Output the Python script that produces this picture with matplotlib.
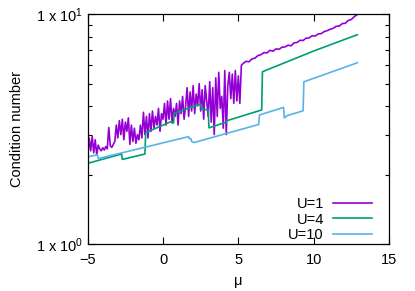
import matplotlib
matplotlib.use("Agg")
import matplotlib.pyplot as plt

plt.rcParams['font.family'] = ['Liberation Sans', 'DejaVu Sans']
plt.rcParams['mathtext.fontset'] = 'custom'
plt.rcParams['mathtext.rm'] = 'Liberation Sans'
plt.rcParams['mathtext.it'] = 'Liberation Sans:italic'

# U=1 : parte ruidosa (mu = -5.0 ... 5.2, paso 0.1) + parte suave
mu_u1 = [
    -5.0, -4.9, -4.8, -4.7, -4.6, -4.5, -4.4, -4.3,
    -4.2, -4.1, -4.0, -3.9, -3.8, -3.7, -3.6, -3.5, -3.4,
    -3.3, -3.2, -3.1, -3.0, -2.9, -2.8, -2.7, -2.6, -2.5, -2.4,
    -2.3, -2.2, -2.1, -2.0, -1.9, -1.8, -1.7, -1.6, -1.5, -1.4,
    -1.3, -1.2, -1.1, -1.0, -0.9, -0.8, -0.7, -0.6, -0.5, -0.4, -0.3, -0.2, -0.1,
    0.0, 0.1, 0.2, 0.3, 0.4, 0.5, 0.6, 0.7, 0.8, 0.9, 1.0, 1.1, 1.2, 1.3, 1.4,
    1.5, 1.6, 1.7, 1.8, 1.9, 2.0, 2.1, 2.2, 2.3, 2.4, 2.5, 2.6, 2.7, 2.8, 2.9,
    3.0, 3.1, 3.2, 3.3, 3.4, 3.5, 3.6, 3.7, 3.8, 3.9, 4.0, 4.1, 4.2, 4.3,
    4.4, 4.5, 4.6, 4.7, 4.8, 4.9, 5.0, 5.1, 5.2,
    5.3, 5.5, 5.7, 5.9, 6.1, 6.3, 6.5, 6.7, 6.9, 7.1, 7.3, 7.5, 7.7, 7.9,
    8.1, 8.3, 8.5, 8.7, 8.9, 9.1, 9.3, 9.5, 9.7, 9.9, 10.1, 10.3, 10.5,
    10.7, 10.9, 11.1, 11.3, 11.5, 11.7, 11.9, 12.1, 12.3, 12.5, 12.7, 12.9,
]
cond_u1 = [
    2.40, 2.90, 2.55, 2.95, 2.50, 2.85, 2.45, 2.70,
    2.60, 2.55, 2.63, 2.57, 2.66, 2.60, 3.22, 2.68, 2.64,
    2.72, 2.80, 3.30, 2.90, 3.45, 3.00, 3.50, 2.85, 3.40, 3.10,
    3.55, 2.72, 3.30, 2.80, 3.20, 2.75, 3.00, 2.85, 3.30, 2.90,
    3.75, 3.00, 3.60, 2.90, 3.70, 3.10, 3.80, 3.20, 3.60, 3.30, 3.90, 3.10, 3.70,
    3.50, 4.10, 3.30, 4.20, 3.50, 4.30, 3.40, 3.90, 3.60, 4.10, 3.30, 4.20, 3.70, 4.40, 3.50,
    4.00, 4.80, 3.60, 4.60, 3.80, 4.90, 3.70, 4.50, 4.00, 5.00, 3.80, 4.70, 3.50, 4.90, 4.20,
    3.60, 5.10, 3.40, 4.80, 3.00, 5.30, 3.60, 5.60, 3.90, 4.40, 3.20, 5.70, 3.00, 4.90,
    5.60, 4.30, 5.50, 4.10, 5.70, 4.20, 5.40, 4.10, 6.00,
    6.10, 6.25, 6.22, 6.40, 6.45, 6.62, 6.68, 6.82, 6.80, 6.98, 6.92, 7.08, 7.05, 7.20,
    7.22, 7.35, 7.30, 7.52, 7.55, 7.72, 7.70, 7.88, 7.90, 8.08, 8.05, 8.22, 8.25,
    8.42, 8.50, 8.62, 8.70, 8.88, 8.90, 9.12, 9.15, 9.42, 9.50, 9.78, 10.0,
]

mu_u4 = [-5.0, -2.75, -2.7, -1.2, -1.15, 0.55, 0.6, 0.7, 0.75, 2.5, 2.55,
         3.0, 3.05, 4.2, 4.25, 6.55, 6.6, 10.0, 10.05, 12.9]
cond_u4 = [2.25, 2.47, 2.34, 2.47, 3.06, 3.42, 3.37, 3.37, 3.72, 4.07, 3.88,
           3.84, 3.21, 3.40, 3.45, 3.84, 5.63, 6.93, 6.95, 8.16]

mu_u10 = [-5.0, -4.35, -4.3, 1.7, 1.75, 1.85, 1.9, 2.05, 6.35, 6.4,
          8.0, 8.05, 8.15, 8.2, 9.3, 9.35, 12.9]
cond_u10 = [2.40, 2.45, 2.36, 2.94, 2.88, 2.88, 2.80, 2.77, 3.32, 3.65,
            3.94, 3.55, 3.58, 3.62, 3.81, 5.09, 6.16]

fs = 10.5

fig = plt.figure(figsize=(4.15, 2.91), dpi=100)
ax = fig.add_axes([0.2113, 0.1605, 0.726, 0.790])

ax.plot(mu_u1, cond_u1, color='#9400d3', lw=1.2, label='U=1')
ax.plot(mu_u4, cond_u4, color='#009e73', lw=1.2, label='U=4')
ax.plot(mu_u10, cond_u10, color='#56b4e9', lw=1.2, label='U=10')

ax.set_yscale('log')
ax.set_xlim(-5, 15)
ax.set_ylim(1, 10)
ax.set_xticks([-5, 0, 5, 10, 15])
ax.set_yticks([1, 10])
ax.set_yticklabels([r'1 x 10$^{0}$', r'1 x 10$^{1}$'])
ax.set_yticks([2, 3, 4, 5, 6, 7, 8, 9], minor=True)
ax.set_yticklabels([], minor=True)
ax.tick_params(which='both', direction='in', top=True, right=True, labelsize=fs)
ax.tick_params(which='major', length=5, width=0.8)
ax.tick_params(which='minor', length=3, width=0.8)
ax.tick_params(axis='x', pad=6)
for s in ax.spines.values():
    s.set_linewidth(0.9)

ax.set_xlabel('μ', fontsize=fs, labelpad=5)
ax.set_ylabel('Condition number', fontsize=fs, labelpad=8)

ax.legend(loc='lower right', bbox_to_anchor=(0.944, 0.01), frameon=False,
          markerfirst=False, fontsize=fs, borderpad=0, borderaxespad=0,
          handlelength=2.7, handletextpad=0.6, labelspacing=0.1)

fig.savefig('out.png', dpi=100)
